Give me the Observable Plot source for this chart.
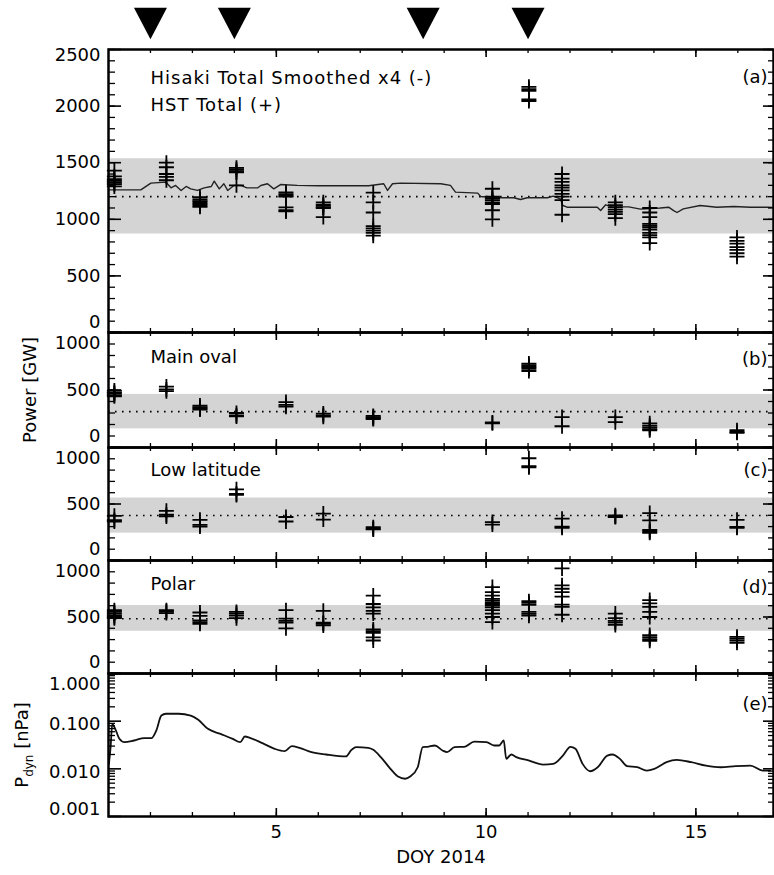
<!DOCTYPE html>
<html><head><meta charset="utf-8">
<script src="https://cdn.jsdelivr.net/npm/d3@7"></script>
<script src="https://cdn.jsdelivr.net/npm/@observablehq/plot@0.6"></script>
<style>
body{margin:0;background:#fff;}
#chart{position:relative;width:774px;height:875px;overflow:hidden;background:#fff;}
#chart svg{position:absolute;left:0;overflow:visible;}
</style></head><body><div id="chart"></div>
<script>
// ---------------- data ----------------
const triangleDays = [2, 4, 8.5, 11];
const hstDays = [1.14, 2.38, 3.18, 4.05, 5.23, 6.12, 7.31, 10.15, 11.02, 11.81, 13.08, 13.9, 15.98];
const totalValues = [
  [1290, 1310, 1325, 1340, 1355, 1380, 1430],
  [1500, 1460, 1400, 1375, 1345],
  [1195, 1175, 1160, 1150, 1135, 1110, 1120],
  [1455, 1440, 1425, 1415, 1300],
  [1238, 1222, 1210, 1200, 1105, 1080, 1070],
  [1150, 1130, 1118, 1105, 1100, 1020],
  [1235, 1150, 1060, 940, 920, 900, 880, 855],
  [1270, 1200, 1185, 1170, 1150, 1135, 1080, 1000],
  [2170, 2150, 2135, 2060, 2045],
  [1400, 1360, 1330, 1300, 1280, 1255, 1225, 1200, 1170, 1040],
  [1150, 1125, 1105, 1085, 1065, 1045, 1010],
  [1100, 1060, 1020, 960, 945, 930, 910, 880, 860, 840, 790],
  [840, 810, 785, 755, 730, 700, 670]
];
const mainOvalValues = [
  [495, 480, 470, 455, 445], [530, 505, 490], [365, 350, 340, 330], [300, 280, 270],
  [395, 370, 355], [295, 280, 268], [275, 265, 255, 248], [218, 210],
  [730, 715, 700, 685, 665], [265, 185], [265, 220], [210, 190, 175, 160, 150], [150, 135, 128]
];
const lowLatValues = [
  [395, 358, 345], [440, 405, 390], [360, 315, 300], [630, 590, 580],
  [385, 345], [415, 362], [295, 282, 275], [340, 318],
  [905, 835, 825], [370, 300, 290], [400, 390, 385], [420, 355, 270, 255, 245], [360, 298, 290]
];
const polarValues = [
  [560, 545, 530, 515, 500, 490], [560, 548, 535], [540, 510, 470, 455, 440], [545, 530, 512, 490],
  [560, 485, 465, 450, 400], [555, 450, 440, 425], [690, 615, 585, 555, 530, 390, 375, 360, 320, 292],
  [765, 720, 690, 660, 645, 630, 615, 600, 585, 560, 530, 500, 455],
  [640, 625, 608, 545, 528, 512], [930, 780, 750, 720, 680, 610, 590, 520],
  [530, 490, 465, 450, 430], [650, 620, 590, 545, 500, 340, 322, 305, 290], [325, 308, 292, 272]
];
const hisakiDays = [1.0, 1.77, 2.01, 2.37, 2.49, 2.60, 2.73, 2.85, 2.96, 3.12, 3.28, 3.45, 3.52, 3.64, 3.75, 3.84, 3.99, 4.15, 4.30, 4.56, 4.63, 4.79, 4.94, 5.10, 5.50, 6.00, 7.20, 7.56, 7.65, 7.77, 7.96, 8.92, 9.15, 9.27, 9.80, 9.87, 10.20, 10.66, 10.82, 10.98, 11.46, 11.60, 11.77, 11.83, 11.93, 12.65, 12.73, 12.85, 13.00, 13.40, 13.68, 14.15, 14.35, 14.47, 14.55, 14.70, 15.10, 15.50, 15.90, 16.30, 16.70, 16.85];
const hisakiValues = [1260, 1260, 1320, 1328, 1278, 1299, 1255, 1290, 1269, 1255, 1278, 1290, 1337, 1269, 1314, 1255, 1299, 1299, 1278, 1278, 1299, 1314, 1269, 1307, 1300, 1296, 1296, 1314, 1255, 1314, 1320, 1314, 1300, 1240, 1231, 1202, 1190, 1190, 1175, 1190, 1190, 1205, 1180, 1122, 1107, 1107, 1077, 1128, 1110, 1110, 1090, 1100, 1107, 1077, 1060, 1092, 1122, 1107, 1113, 1107, 1107, 1105];
const pdynDays = [1.01,1.05,1.09,1.16,1.26,1.38,1.61,1.85,2.02,2.14,2.26,2.37,2.67,2.96,3.14,3.37,3.67,3.96,4.14,4.25,4.37,4.67,4.96,5.20,5.37,5.55,5.84,6.19,6.66,6.78,6.90,7.19,7.31,7.49,7.72,7.90,8.07,8.19,8.37,8.49,8.60,8.78,8.96,9.07,9.25,9.48,9.72,10.01,10.19,10.31,10.42,10.48,10.60,10.72,11.01,11.36,11.60,11.83,12.01,12.13,12.30,12.48,12.66,12.89,13.01,13.19,13.36,13.60,13.83,14.01,14.30,14.54,14.89,15.24,15.59,15.95,16.30,16.59,16.77];
const pdynValues = [0.0127,0.0285,0.088,0.069,0.0426,0.0362,0.0393,0.044,0.044,0.064,0.131,0.143,0.143,0.131,0.107,0.069,0.054,0.0426,0.0362,0.0477,0.0447,0.0345,0.0263,0.0235,0.0299,0.0276,0.0224,0.020,0.0182,0.0243,0.0285,0.0276,0.0251,0.0176,0.0100,0.0069,0.0062,0.0069,0.0108,0.0285,0.029,0.0309,0.0243,0.0224,0.0285,0.029,0.0374,0.0362,0.0309,0.0309,0.0393,0.0162,0.020,0.0176,0.015,0.0123,0.0127,0.019,0.029,0.0263,0.0127,0.0089,0.0108,0.019,0.020,0.0162,0.0114,0.0108,0.0092,0.010,0.0138,0.0154,0.0138,0.0117,0.0108,0.0114,0.0117,0.0092,0.0092];
const bandLow = [870, 162, 242, 374];
const bandHigh = [1535, 462, 553, 602];
const bandMean = [1200, 312, 398, 485];
const panelTags = ["(a)", "(b)", "(c)", "(d)", "(e)"];
const panelNames = ["Hisaki Total Smoothed x4 (-)", "Main oval", "Low latitude", "Polar"];
const subLabelA = "HST Total (+)";
const totalTicks = [0, 500, 1000, 1500, 2000, 2500];
const regionTicks = [0, 500, 1000];
const pdynTicks = [0.001, 0.01, 0.1, 1];
const xTickValues = [5, 10, 15];
const xLabel = "DOY 2014";
const yLabelPower = "Power [GW]";
const yLabelPdyn = "Pdyn [nPa]";

// ---------------- layout ----------------
const W = 774, ML = 108, MR = 1;
const PW = W - ML - MR;
const xDomain = [1, 16.85];
const xMinor = d3.range(2, 17);
const chart = document.getElementById("chart");
const FONT = "DejaVu Sans";

const plusSym = {draw(ctx, size) { const r = Math.sqrt(size / Math.PI);
  ctx.moveTo(-r, 0); ctx.lineTo(r, 0); ctx.moveTo(0, -r); ctx.lineTo(0, r); }};
const triDown = {draw(ctx, size) { const r = Math.sqrt(size / Math.PI);
  ctx.moveTo(-r, -0.95 * r); ctx.lineTo(r, -0.95 * r); ctx.lineTo(0, 0.95 * r); ctx.closePath(); }};

function frameTicks(yMajor, yMinor, ph) {
  const id = d => d;
  return [
    Plot.tickY(yMinor, {y: id, insetRight: PW - 7, strokeWidth: 1.3}),
    Plot.tickY(yMajor, {y: id, insetRight: PW - 13, strokeWidth: 1.6}),
    Plot.tickY(yMinor, {y: id, insetLeft: PW - 5, strokeWidth: 1.3}),
    Plot.tickY(yMajor, {y: id, insetLeft: PW - 10, strokeWidth: 1.6}),
    Plot.tickX(xMinor, {x: id, insetBottom: ph - 4, strokeWidth: 1.3}),
    Plot.tickX(xTickValues, {x: id, insetBottom: ph - 8, strokeWidth: 1.6}),
    Plot.tickX(xMinor, {x: id, insetTop: ph - 4, strokeWidth: 1.3}),
    Plot.tickX(xTickValues, {x: id, insetTop: ph - 8, strokeWidth: 1.6})
  ];
}
function yLabels(ticks, fmt, dTop, dBottom, dMid) {
  const mid = ticks.slice(1, -1), lo = [ticks[0]], hi = [ticks[ticks.length - 1]];
  const o = {y: d => d, text: fmt, frameAnchor: "left", dx: -8, textAnchor: "end"};
  return [
    Plot.text(mid, {...o, dy: dMid}),
    Plot.text(hi, {...o, dy: dTop}),
    Plot.text(lo, {...o, dy: dBottom})
  ];
}
function crosses(values) {
  const rows = hstDays.flatMap((d, i) => values[i].map(v => ({day: d, v})));
  return Plot.dot(rows, {x: "day", y: "v", symbol: plusSym, r: 7.5, stroke: "black", fill: "none", strokeWidth: 1.8});
}
function bandMarks(i) {
  return [
    Plot.rect([0], {x1: () => xDomain[0], x2: () => xDomain[1], y1: () => bandLow[i], y2: () => bandHigh[i], fill: "#d4d4d4"}),
    Plot.ruleY([bandMean[i]], {y: d => d, stroke: "black", strokeWidth: 1.6, strokeDasharray: "1.6 5.4"})
  ];
}
function panel(top, bottom, mt, mb, y, marks) {
  const ph = bottom - top;
  const svg = Plot.plot({
    width: W, height: ph + mt + mb,
    marginTop: mt, marginBottom: mb, marginLeft: ML, marginRight: MR,
    x: {domain: xDomain, axis: null},
    y: {...y, axis: null},
    style: {fontFamily: FONT, fontSize: "18px", background: "transparent", overflow: "visible", color: "black"},
    marks
  });
  svg.style.top = (top - mt) + "px";
  chart.append(svg);
  return svg;
}
const fmtInt = d => String(d);
const minor100 = d3.range(0, 1001, 100);

// Panel (a)
const svgA = panel(49, 332, 49, 10, {domain: [0, 2500]}, [
  ...bandMarks(0),
  Plot.line(hisakiDays.map((d, i) => ({day: d, v: hisakiValues[i]})), {x: "day", y: "v", stroke: "#222", strokeWidth: 1.4}),
  crosses(totalValues),
  ...frameTicks(totalTicks, d3.range(0, 2501, 100), 283),
  Plot.frame({stroke: "black", strokeWidth: 2.5}),
  ...yLabels(totalTicks, fmtInt, 6, -10, 0),
  Plot.dotX(triangleDays, {x: d => d, frameAnchor: "top", dy: -26, r: 16.5, symbol: triDown, fill: "black", stroke: "none"}),
  Plot.text([panelNames[0]], {text: d => d, frameAnchor: "top-left", dx: 42, dy: 22, textAnchor: "start"}),
  Plot.text([subLabelA], {text: d => d, frameAnchor: "top-left", dx: 42, dy: 49, textAnchor: "start"}),
  Plot.text([panelTags[0]], {text: d => d, frameAnchor: "top-right", dx: -6, dy: 21, textAnchor: "end"})
]);

// Panels (b)-(d)
const regionDefs = [
  {top: 332, bottom: 447, vals: mainOvalValues, i: 1, dyName: 18, dyTag: 20},
  {top: 447, bottom: 560, vals: lowLatValues, i: 2, dyName: 16, dyTag: 16},
  {top: 560, bottom: 673, vals: polarValues, i: 3, dyName: 17, dyTag: 20}
];
for (const p of regionDefs) {
  const extra = p.i === 1 ? [Plot.text([yLabelPower], {text: d => d, frameAnchor: "left", dx: -78, rotate: -90, textAnchor: "middle"})] : [];
  panel(p.top, p.bottom, 10, 10, {domain: [0, 1000]}, [
    ...bandMarks(p.i),
    crosses(p.vals),
    ...frameTicks(regionTicks, minor100, p.bottom - p.top),
    Plot.frame({stroke: "black", strokeWidth: 2.5}),
    ...yLabels(regionTicks, fmtInt, 11, -11, 0),
    Plot.text([panelNames[p.i]], {text: d => d, frameAnchor: "top-left", dx: 42, dy: p.dyName, textAnchor: "start"}),
    Plot.text([panelTags[p.i]], {text: d => d, frameAnchor: "top-right", dx: -6, dy: p.dyTag, textAnchor: "end"}),
    ...extra
  ]);
}

// Panel (e)
const logMinor = [0.001, 0.01, 0.1].flatMap(b => d3.range(2, 10).map(k => +(k * b).toPrecision(3)));
const svgE = panel(673, 816, 10, 59, {type: "log", domain: [0.001, 1]}, [
  Plot.line(pdynDays.map((d, i) => ({day: d, v: pdynValues[i]})), {x: "day", y: "v", stroke: "#111", strokeWidth: 1.8, curve: "monotone-x"}),
  ...frameTicks(pdynTicks, logMinor, 143),
  Plot.frame({stroke: "black", strokeWidth: 2.5}),
  ...yLabels(pdynTicks, d3.format(".3f"), 11, -7, 3),
  Plot.text([panelTags[4]], {text: d => d, frameAnchor: "top-right", dx: -6, dy: 24, textAnchor: "end"}),
  Plot.text(xTickValues, {x: d => d, text: d => String(d), frameAnchor: "bottom", dy: 21}),
  Plot.text([xLabel], {text: d => d, frameAnchor: "bottom", dy: 46}),
  Plot.text([yLabelPdyn], {text: d => d, frameAnchor: "left", dx: -86, rotate: -90, textAnchor: "middle"})
]);

// subscript in Pdyn label, letter spacing on panel (a) labels
const NS = "http://www.w3.org/2000/svg";
for (const t of svgE.querySelectorAll("text")) {
  if (t.textContent === yLabelPdyn) {
    t.textContent = "P";
    const s = document.createElementNS(NS, "tspan");
    s.setAttribute("font-size", "12"); s.setAttribute("dy", "5"); s.textContent = "dyn";
    const r = document.createElementNS(NS, "tspan");
    r.setAttribute("dy", "-5"); r.textContent = " [nPa]";
    t.append(s, r);
  }
}
for (const t of svgA.querySelectorAll("text")) {
  if (t.textContent === panelNames[0] || t.textContent === subLabelA) t.style.letterSpacing = "1px";
}
</script></body></html>
